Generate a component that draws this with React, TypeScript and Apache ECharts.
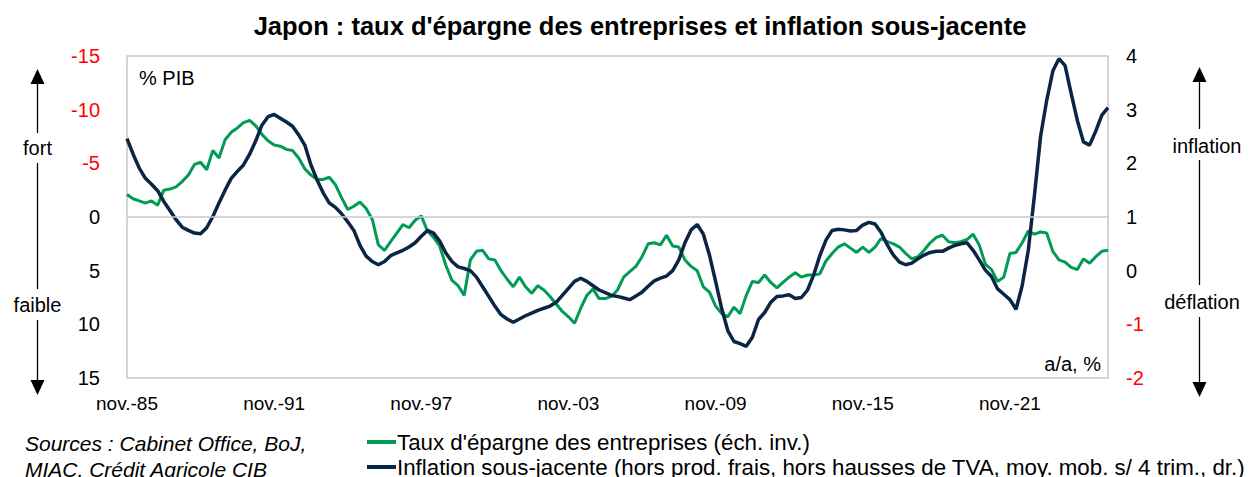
import React, { useEffect, useRef } from "react";
import * as echarts from "echarts";

// Quarterly categories, Q4 1985 (nov.-85) to Q4 2025
const QUARTER_MONTHS = ["févr.", "mai", "août", "nov."];
const START_YEAR = 1985;
const N_POINTS = 161;
const categories: string[] = Array.from({ length: N_POINTS }, (_, i) => {
  const q = (i + 3) % 4;
  const y = START_YEAR + Math.floor((i + 3) / 4);
  return `${QUARTER_MONTHS[q]}-${String(y % 100).padStart(2, "0")}`;
});
const LABEL_EVERY = 24; // nov.-85, nov.-91, ... nov.-21

const leftTicks = { min: -15, max: 15, interval: 5 };
const rightTicks = { min: -2, max: 4, interval: 1 };

// Taux d'épargne des entreprises (% PIB, échelle inversée)
const savingsRate: number[] = [
  -2.1, -1.7, -1.5, -1.3, -1.5, -1.1, -2.5, -2.6, -2.8, -3.3,
  -3.9, -4.9, -5.1, -4.4, -6.2, -5.5, -7.2, -7.9, -8.3, -8.8,
  -9.0, -8.5, -7.7, -7.1, -6.7, -6.6, -6.3, -6.2, -5.5, -4.5,
  -3.9, -3.5, -3.5, -3.7, -3.0, -1.8, -0.7, -1.0, -1.4, -0.8,
  0.2, 2.6, 3.1, 2.3, 1.5, 0.7, 1.0, 0.3, -0.1, 1.3,
  1.9, 2.7, 4.5, 5.9, 6.4, 7.3, 4.0, 3.2, 3.1, 3.9,
  4.0, 5.0, 5.8, 6.5, 5.6, 6.5, 7.1, 6.4, 6.8, 7.4,
  8.1, 8.8, 9.3, 9.9, 8.5, 7.3, 6.7, 7.6, 7.6, 7.4,
  6.8, 5.6, 5.1, 4.6, 3.7, 2.5, 2.4, 2.6, 1.7, 2.7,
  2.8, 4.0, 4.6, 5.0, 6.5, 7.0, 8.3, 9.0, 9.3, 8.4,
  9.0, 7.3, 6.0, 6.1, 5.4, 6.1, 6.6, 6.1, 5.6, 5.2,
  5.6, 5.4, 5.4, 5.3, 4.1, 3.4, 2.8, 2.5, 2.9, 3.3,
  2.8, 3.3, 2.8, 2.0, 2.3, 2.5, 2.8, 3.4, 3.9, 3.7,
  3.1, 2.4, 1.9, 1.7, 2.3, 2.4, 2.3, 2.1, 1.6, 2.6,
  4.4, 4.9, 6.0, 5.6, 3.4, 3.3, 2.4, 1.3, 1.6, 1.4,
  1.5, 3.2, 4.0, 4.2, 4.7, 4.9, 3.9, 4.3, 3.7, 3.2,
  3.1,
];

// Inflation sous-jacente (a/a, %, axe de droite)
const coreInflation: number[] = [
  2.46, 2.17, 1.91, 1.72, 1.61, 1.49, 1.29, 1.12, 0.95, 0.81,
  0.75, 0.70, 0.69, 0.80, 1.01, 1.26, 1.50, 1.72, 1.85, 1.97,
  2.17, 2.42, 2.71, 2.87, 2.91, 2.84, 2.77, 2.69, 2.53, 2.34,
  1.97, 1.69, 1.45, 1.26, 1.18, 1.06, 0.91, 0.75, 0.47, 0.27,
  0.17, 0.11, 0.17, 0.28, 0.33, 0.38, 0.44, 0.52, 0.64, 0.75,
  0.70, 0.55, 0.33, 0.17, 0.07, 0.04, 0.00, -0.12, -0.30, -0.48,
  -0.66, -0.82, -0.90, -0.96, -0.90, -0.84, -0.79, -0.74, -0.70, -0.66,
  -0.59, -0.46, -0.33, -0.20, -0.14, -0.20, -0.28, -0.36, -0.41, -0.46,
  -0.48, -0.51, -0.54, -0.47, -0.40, -0.29, -0.19, -0.14, -0.10, 0.00,
  0.20, 0.52, 0.76, 0.86, 0.68, 0.29, -0.20, -0.71, -1.12, -1.32,
  -1.36, -1.41, -1.24, -0.91, -0.78, -0.59, -0.48, -0.47, -0.45, -0.52,
  -0.50, -0.36, -0.08, 0.28, 0.57, 0.75, 0.77, 0.76, 0.74, 0.75,
  0.85, 0.90, 0.87, 0.71, 0.48, 0.29, 0.16, 0.11, 0.14, 0.22,
  0.29, 0.34, 0.36, 0.36, 0.42, 0.47, 0.50, 0.52, 0.38, 0.20,
  0.01, -0.11, -0.34, -0.44, -0.54, -0.72, -0.28, 0.38, 1.40, 2.50,
  3.17, 3.72, 3.95, 3.82, 3.30, 2.80, 2.40, 2.34, 2.60, 2.90,
  3.04,
];

const SERIES_NAMES = [
  "Taux d'épargne des entreprises (éch. inv.)",
  "Inflation sous-jacente (hors prod. frais, hors hausses de TVA, moy. mob. s/ 4 trim., dr.)",
];

const GREEN = "#009B55";
const NAVY = "#0B2545";
const RED = "#FF0000";
const FRAME = "#C8C8C8";
const FONT = "Liberation Sans, Arial, sans-serif";

function arrow(x: number, top: number, bottom: number, gaps: [number, number][]) {
  const els: any[] = [];
  const segs: [number, number][] = [];
  let cur = top + 14;
  for (const g of gaps) {
    segs.push([cur, g[0]]);
    cur = g[1];
  }
  segs.push([cur, bottom - 14]);
  for (const s of segs) {
    els.push({
      type: "line",
      shape: { x1: x, y1: s[0], x2: x, y2: s[1] },
      style: { stroke: "#000", lineWidth: 1.3 },
    });
  }
  els.push({
    type: "polygon",
    shape: { points: [[x - 7, top + 15], [x + 7, top + 15], [x, top]] },
    style: { fill: "#000" },
  });
  els.push({
    type: "polygon",
    shape: { points: [[x - 7, bottom - 15], [x + 7, bottom - 15], [x, bottom]] },
    style: { fill: "#000" },
  });
  return els;
}

function label(text: string, x: number, y: number, align: string = "center", extra: any = {}) {
  return {
    type: "text",
    x,
    y,
    style: {
      text,
      fill: "#000",
      font: `20px ${FONT}`,
      textAlign: align,
      textVerticalAlign: "middle",
      ...extra,
    },
  };
}

function legendRow(name: string, top: number) {
  return {
    orient: "horizontal",
    left: 367,
    top,
    itemWidth: 29,
    itemHeight: 4,
    icon: "rect",
    padding: 0,
    textStyle: { fontFamily: FONT, fontSize: 22.3, color: "#000", padding: [0, 0, 0, -4] },
    data: [name],
  };
}

export default function App() {
  const ref = useRef<HTMLDivElement>(null);

  useEffect(() => {
    if (!ref.current) return;
    const chart = echarts.init(ref.current, undefined, { renderer: "svg" });
    const option: any = {
      animation: false,
      backgroundColor: "#fff",
      textStyle: { fontFamily: FONT },
      grid: {
        left: 127,
        right: 146,
        top: 56,
        bottom: 99,
        show: true,
        borderColor: FRAME,
        borderWidth: 1.5,
        containLabel: false,
      },
      legend: [legendRow(SERIES_NAMES[0], 431), legendRow(SERIES_NAMES[1], 456)],
      xAxis: {
        type: "category",
        data: categories,
        boundaryGap: false,
        axisLine: { show: false },
        axisTick: { show: false },
        splitLine: { show: false },
        axisLabel: {
          interval: (index: number) => index % LABEL_EVERY === 0,
          fontSize: 19,
          color: "#000",
          margin: 16,
          fontFamily: FONT,
        },
      },
      yAxis: [
        {
          type: "value",
          inverse: true,
          min: leftTicks.min,
          max: leftTicks.max,
          interval: leftTicks.interval,
          axisLine: { show: false },
          axisTick: { show: false },
          splitLine: { show: false },
          axisLabel: {
            fontSize: 20,
            margin: 27,
            fontFamily: FONT,
            color: (v: any) => (Number(v) < 0 ? RED : "#000"),
          },
        },
        {
          type: "value",
          position: "right",
          min: rightTicks.min,
          max: rightTicks.max,
          interval: rightTicks.interval,
          axisLine: { show: false },
          axisTick: { show: false },
          splitLine: { show: false },
          axisLabel: {
            fontSize: 20,
            margin: 18,
            fontFamily: FONT,
            color: (v: any) => (Number(v) < 0 ? RED : "#000"),
          },
        },
      ],
      series: [
        {
          name: SERIES_NAMES[0],
          type: "line",
          yAxisIndex: 0,
          data: savingsRate,
          showSymbol: false,
          symbol: "none",
          itemStyle: { color: GREEN },
          lineStyle: { color: GREEN, width: 3 },
          markLine: {
            silent: true,
            symbol: "none",
            label: { show: false },
            lineStyle: { color: FRAME, width: 1.5, type: "solid" },
            data: [{ yAxis: 0 }],
          },
          z: 2,
        },
        {
          name: SERIES_NAMES[1],
          type: "line",
          yAxisIndex: 1,
          data: coreInflation,
          showSymbol: false,
          symbol: "none",
          itemStyle: { color: NAVY },
          lineStyle: { color: NAVY, width: 3.5 },
          z: 3,
        },
      ],
      graphic: [
        {
          type: "text",
          x: 640,
          y: 26,
          style: {
            text: "Japon : taux d'épargne des entreprises et inflation sous-jacente",
            fill: "#000",
            font: `bold 25.5px ${FONT}`,
            textAlign: "center",
            textVerticalAlign: "middle",
          },
        },
        label("% PIB", 139, 78, "left"),
        label("a/a, %", 1101, 364, "right"),
        ...arrow(37.5, 69, 395, [[133, 163], [289, 320]]),
        label("fort", 37.5, 148),
        label("faible", 37.5, 305),
        ...arrow(1199.5, 67, 397, [[129, 160], [285, 317]]),
        label("inflation", 1207, 146),
        label("déflation", 1202, 302),
        label("Sources : Cabinet Office, BoJ,", 25, 443, "left", { font: `italic 21px ${FONT}` }),
        label("MIAC, Crédit Agricole CIB", 25, 469, "left", { font: `italic 21px ${FONT}` }),
      ],
    };
    chart.setOption(option);
    return () => chart.dispose();
  }, []);

  return (
    <div
      ref={ref}
      style={{ position: "absolute", left: 0, top: 0, width: 1254, height: 477 }}
    />
  );
}
